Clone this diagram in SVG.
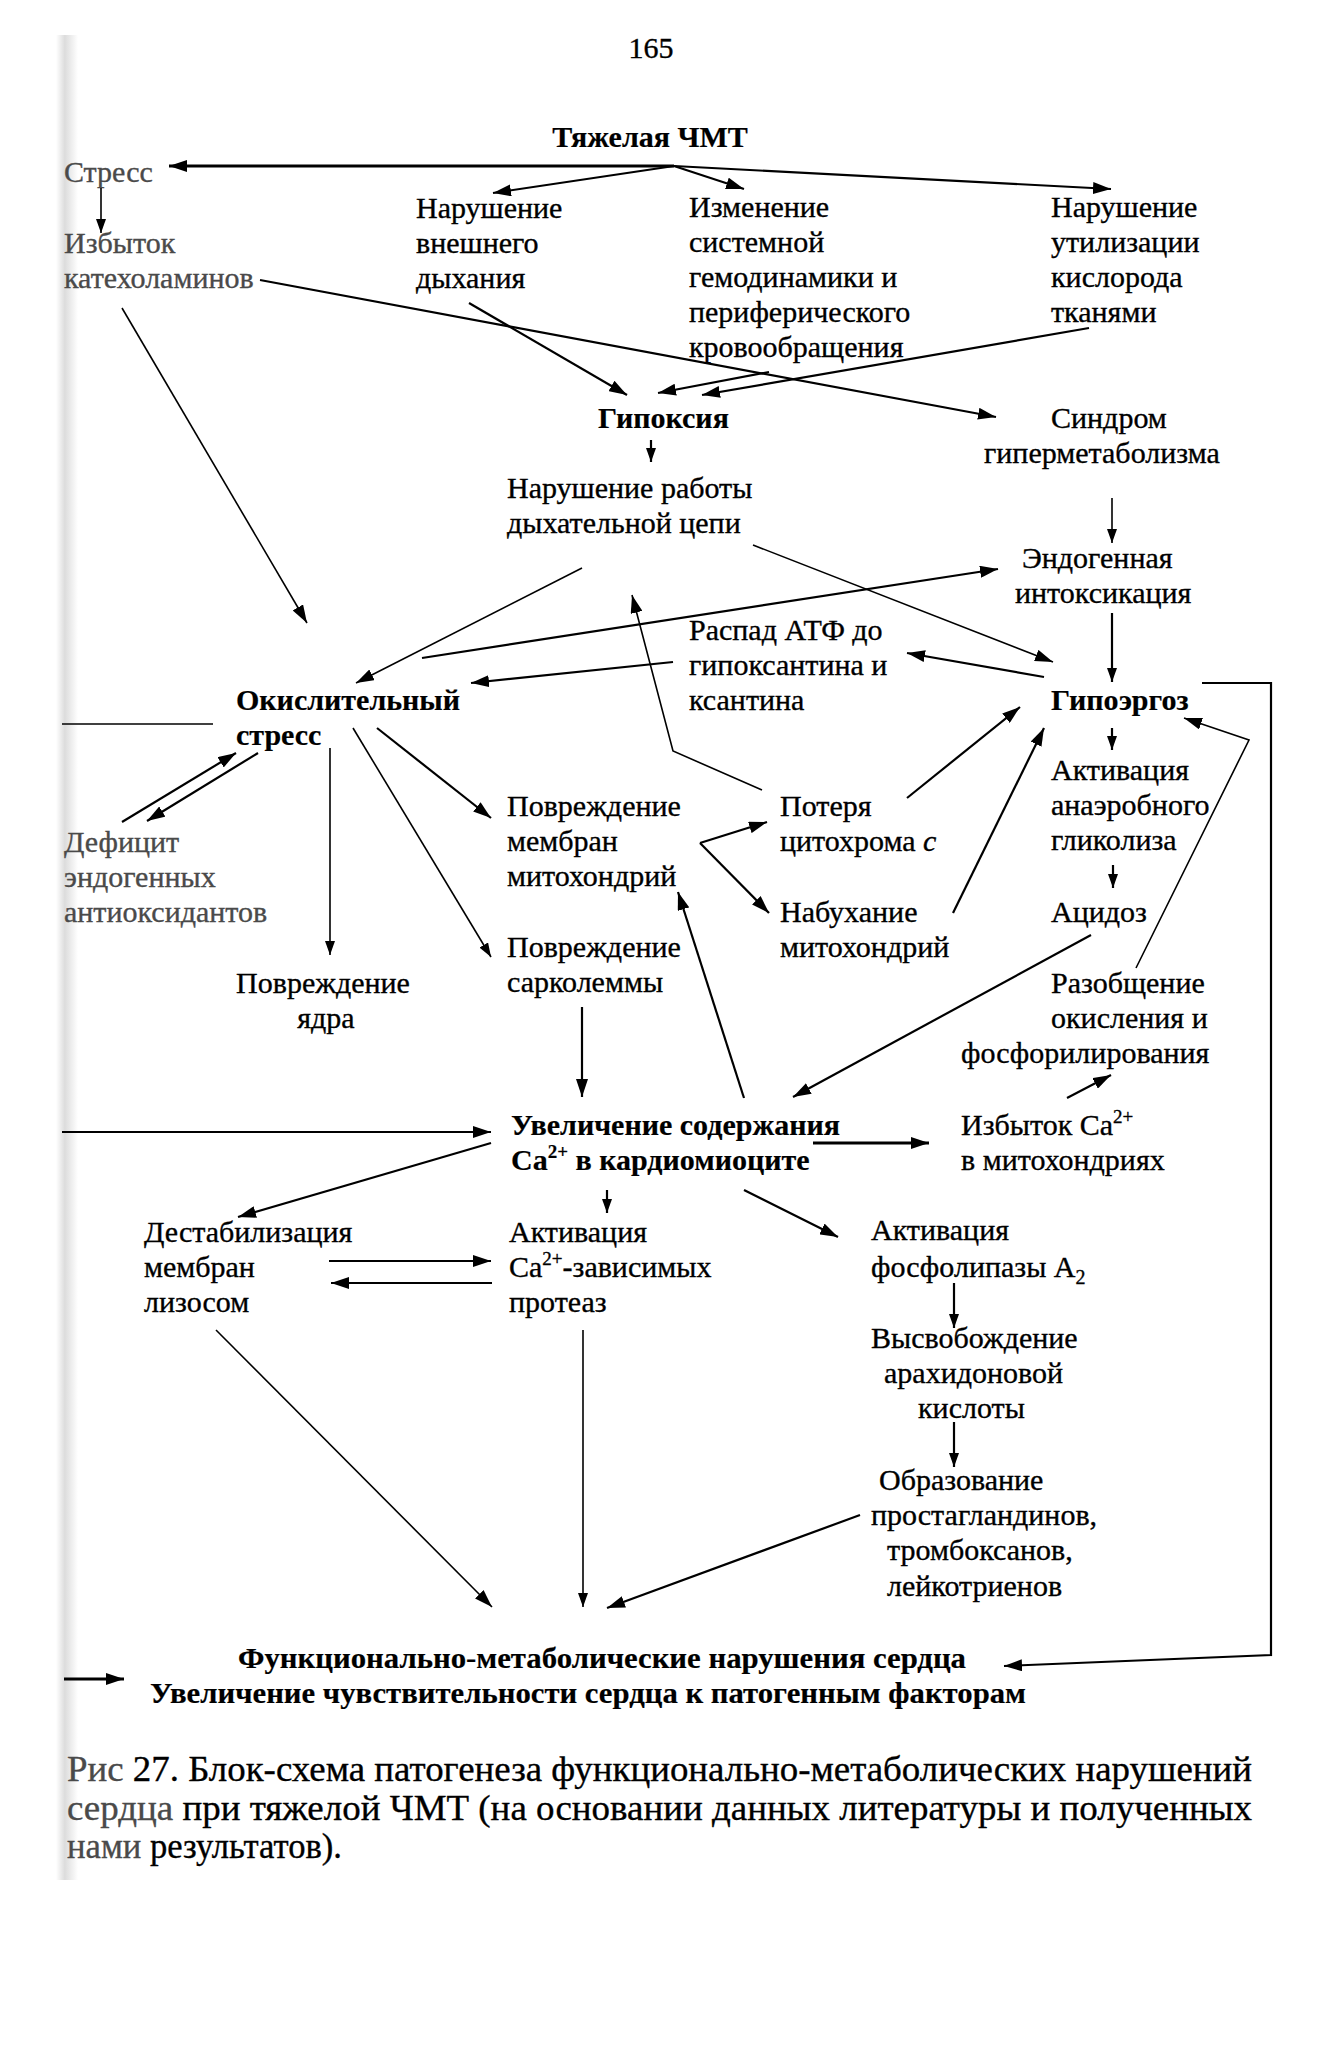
<svg xmlns="http://www.w3.org/2000/svg" width="1338" height="2050" viewBox="0 0 1338 2050">
<defs>
<marker id="ah" markerUnits="userSpaceOnUse" markerWidth="18" markerHeight="12" refX="18" refY="6" orient="auto"><path d="M0,0 L18,6 L0,12 z" fill="#000"/></marker>
<marker id="as" markerUnits="userSpaceOnUse" markerWidth="14" markerHeight="10" refX="14" refY="5" orient="auto"><path d="M0,0 L14,5 L0,10 z" fill="#000"/></marker>
<linearGradient id="shade" x1="0" y1="0" x2="1" y2="0"><stop offset="0" stop-color="#ffffff"/><stop offset="0.4" stop-color="#dcdcdc"/><stop offset="1" stop-color="#ffffff"/></linearGradient>
<style>
text{font-family:"Liberation Serif","Times New Roman",serif;font-size:30px;fill:#000;stroke:#000;stroke-width:0.35px}
.b{font-weight:bold;stroke-width:0.2px}
.g{fill:#4a4a4a;stroke:#4a4a4a}
.cap{font-size:36px}
.c line,.c polyline,.c path{stroke:#000;stroke-width:2.2;fill:none}
.t{stroke-width:1.6!important}
.k{stroke-width:3!important}
</style>
</defs>
<rect x="0" y="0" width="1338" height="2050" fill="#fff"/>
<rect x="56" y="35" width="22" height="1845" fill="url(#shade)"/>

<g id="page"><text x="651" y="58" text-anchor="middle">165</text></g>
<g id="n-tbi"><text class="b" x="650" y="147" text-anchor="middle">Тяжелая ЧМТ</text></g>
<g id="n-stress"><text class="g" x="64" y="182">Стресс</text></g>
<g id="n-catechol"><text class="g" x="64" y="253">Избыток<tspan x="64" y="288">катехоламинов</tspan></text></g>
<g id="n-breath"><text x="416" y="218">Нарушение<tspan x="416" y="253">внешнего</tspan><tspan x="416" y="288">дыхания</tspan></text></g>
<g id="n-hemo"><text x="689" y="217">Изменение<tspan x="689" y="252">системной</tspan><tspan x="689" y="287">гемодинамики и</tspan><tspan x="689" y="322">периферического</tspan><tspan x="689" y="357">кровообращения</tspan></text></g>
<g id="n-oxyuse"><text x="1051" y="217">Нарушение<tspan x="1051" y="252">утилизации</tspan><tspan x="1051" y="287">кислорода</tspan><tspan x="1051" y="322">тканями</tspan></text></g>
<g id="n-hypoxia"><text class="b" x="598" y="428">Гипоксия</text></g>
<g id="n-hypermet"><text x="1051" y="428">Синдром<tspan x="984" y="463">гиперметаболизма</tspan></text></g>
<g id="n-chain"><text x="507" y="498">Нарушение работы<tspan x="507" y="533">дыхательной цепи</tspan></text></g>
<g id="n-intox"><text x="1022" y="568">Эндогенная<tspan x="1015" y="603">интоксикация</tspan></text></g>
<g id="n-atp"><text x="689" y="640">Распад АТФ до<tspan x="689" y="675">гипоксантина и</tspan><tspan x="689" y="710">ксантина</tspan></text></g>
<g id="n-oxstress"><text class="b" x="236" y="710">Окислительный<tspan x="236" y="745">стресс</tspan></text></g>
<g id="n-hypoerg"><text class="b" x="1051" y="710">Гипоэргоз</text></g>
<g id="n-mitomem"><text x="507" y="816">Повреждение<tspan x="507" y="851">мембран</tspan><tspan x="507" y="886">митохондрий</tspan></text></g>
<g id="n-cyto"><text x="780" y="816">Потеря<tspan x="780" y="851">цитохрома <tspan font-style="italic">с</tspan></tspan></text></g>
<g id="n-glyco"><text x="1051" y="780">Активация<tspan x="1051" y="815">анаэробного</tspan><tspan x="1051" y="850">гликолиза</tspan></text></g>
<g id="n-antiox"><text class="g" x="64" y="852">Дефицит<tspan x="64" y="887">эндогенных</tspan><tspan x="64" y="922">антиоксидантов</tspan></text></g>
<g id="n-swell"><text x="780" y="922">Набухание<tspan x="780" y="957">митохондрий</tspan></text></g>
<g id="n-acid"><text x="1051" y="922">Ацидоз</text></g>
<g id="n-sarco"><text x="507" y="957">Повреждение<tspan x="507" y="992">сарколеммы</tspan></text></g>
<g id="n-nucleus"><text x="323" y="993" text-anchor="middle">Повреждение<tspan x="326" y="1028">ядра</tspan></text></g>
<g id="n-uncouple"><text x="1051" y="993">Разобщение<tspan x="1051" y="1028">окисления и</tspan><tspan x="961" y="1063">фосфорилирования</tspan></text></g>
<g id="n-ca"><text class="b" x="511" y="1135">Увеличение содержания<tspan x="511" y="1170">Ca</tspan><tspan dy="-12" font-size="19">2+</tspan><tspan dy="12"> в кардиомиоците</tspan></text></g>
<g id="n-camito"><text x="961" y="1135">Избыток Ca<tspan dy="-12" font-size="19">2+</tspan><tspan x="961" y="1170">в митохондриях</tspan></text></g>
<g id="n-lyso"><text x="144" y="1242">Дестабилизация<tspan x="144" y="1277">мембран</tspan><tspan x="144" y="1312">лизосом</tspan></text></g>
<g id="n-prot"><text x="509" y="1242">Активация<tspan x="509" y="1277">Ca</tspan><tspan dy="-12" font-size="19">2+</tspan><tspan dy="12">-зависимых</tspan><tspan x="509" y="1312">протеаз</tspan></text></g>
<g id="n-pla2"><text x="871" y="1240">Активация<tspan x="871" y="1277">фосфолипазы A</tspan><tspan dy="7" font-size="20">2</tspan></text></g>
<g id="n-arach"><text x="871" y="1348">Высвобождение<tspan x="884" y="1383">арахидоновой</tspan><tspan x="918" y="1418">кислоты</tspan></text></g>
<g id="n-prost"><text x="879" y="1490">Образование<tspan x="871" y="1525">простагландинов,</tspan><tspan x="887" y="1560">тромбоксанов,</tspan><tspan x="887" y="1596">лейкотриенов</tspan></text></g>
<g id="n-heart"><text class="b" x="238" y="1668" textLength="728" lengthAdjust="spacingAndGlyphs">Функционально-метаболические нарушения сердца</text><text class="b" x="150" y="1703" textLength="876" lengthAdjust="spacingAndGlyphs">Увеличение чувствительности сердца к патогенным факторам</text></g>

<g id="caption">
<text class="cap" x="67" y="1781" textLength="1185" lengthAdjust="spacingAndGlyphs"><tspan class="g">Рис</tspan>  27. Блок-схема патогенеза функционально-метаболических нарушений</text>
<text class="cap" x="67" y="1820" textLength="1185" lengthAdjust="spacingAndGlyphs"><tspan class="g">сердца</tspan> при тяжелой ЧМТ (на основании данных литературы и полученных</text>
<text class="cap" x="67" y="1858" textLength="275" lengthAdjust="spacingAndGlyphs"><tspan class="g">нами</tspan> результатов).</text>
</g>

<g id="connectors" class="c">
<line class="k" x1="674" y1="166" x2="169" y2="166" marker-end="url(#ah)"/>
<line x1="674" y1="166" x2="493" y2="193" marker-end="url(#ah)"/>
<line x1="674" y1="166" x2="744" y2="189" marker-end="url(#ah)"/>
<line x1="674" y1="166" x2="1111" y2="189" marker-end="url(#ah)"/>
<line class="t" x1="101" y1="188" x2="101" y2="233" marker-end="url(#as)"/>
<line x1="260" y1="280" x2="996" y2="417" marker-end="url(#ah)"/>
<line class="t" x1="122" y1="308" x2="307" y2="623" marker-end="url(#ah)"/>
<line x1="469" y1="303" x2="627" y2="395" marker-end="url(#ah)"/>
<line x1="769" y1="372" x2="658" y2="393" marker-end="url(#ah)"/>
<line x1="1089" y1="328" x2="702" y2="395" marker-end="url(#ah)"/>
<line x1="651" y1="440" x2="651" y2="462" marker-end="url(#as)"/>
<line class="t" x1="1112" y1="498" x2="1112" y2="543" marker-end="url(#as)"/>
<line class="t" x1="582" y1="568" x2="356" y2="683" marker-end="url(#ah)"/>
<line class="t" x1="753" y1="545" x2="1053" y2="662" marker-end="url(#ah)"/>
<line x1="422" y1="658" x2="998" y2="569" marker-end="url(#ah)"/>
<line x1="1112" y1="613" x2="1112" y2="682" marker-end="url(#as)"/>
<line x1="673" y1="662" x2="471" y2="683" marker-end="url(#ah)"/>
<line x1="1044" y1="677" x2="907" y2="653" marker-end="url(#ah)"/>
<polyline points="1202,683 1271,683 1271,1655 1004,1666" marker-end="url(#ah)"/>
<line x1="1112" y1="728" x2="1112" y2="750" marker-end="url(#as)"/>
<line class="t" x1="62" y1="724" x2="213" y2="724"/>
<line x1="122" y1="822" x2="236" y2="753" marker-end="url(#ah)"/>
<line x1="258" y1="753" x2="147" y2="821" marker-end="url(#ah)"/>
<line class="t" x1="330" y1="748" x2="330" y2="955" marker-end="url(#as)"/>
<line class="t" x1="353" y1="728" x2="491" y2="957" marker-end="url(#as)"/>
<line x1="377" y1="728" x2="491" y2="818" marker-end="url(#ah)"/>
<polyline class="t" points="762,790 673,751 632,595" marker-end="url(#ah)"/>
<line x1="907" y1="798" x2="1020" y2="707" marker-end="url(#ah)"/>
<line x1="953" y1="913" x2="1044" y2="728" marker-end="url(#ah)"/>
<polyline class="t" points="1136,968 1249,740 1184,718" marker-end="url(#ah)"/>
<line x1="700" y1="843" x2="767" y2="822" marker-end="url(#ah)"/>
<line x1="700" y1="843" x2="769" y2="913" marker-end="url(#ah)"/>
<line x1="1113" y1="865" x2="1113" y2="888" marker-end="url(#as)"/>
<line x1="1091" y1="935" x2="793" y2="1097" marker-end="url(#ah)"/>
<line x1="1067" y1="1098" x2="1111" y2="1075" marker-end="url(#ah)"/>
<line x1="582" y1="1007" x2="582" y2="1097" marker-end="url(#ah)"/>
<line x1="744" y1="1098" x2="678" y2="892" marker-end="url(#ah)"/>
<line x1="62" y1="1132" x2="491" y2="1132" marker-end="url(#ah)"/>
<line x1="491" y1="1143" x2="238" y2="1217" marker-end="url(#ah)"/>
<line x1="607" y1="1190" x2="607" y2="1213" marker-end="url(#as)"/>
<line class="k" x1="813" y1="1143" x2="929" y2="1143" marker-end="url(#ah)"/>
<line x1="744" y1="1190" x2="838" y2="1237" marker-end="url(#ah)"/>
<line x1="329" y1="1261" x2="491" y2="1261" marker-end="url(#ah)"/>
<line x1="492" y1="1283" x2="331" y2="1283" marker-end="url(#ah)"/>
<line x1="954" y1="1283" x2="954" y2="1328" marker-end="url(#as)"/>
<line x1="954" y1="1422" x2="954" y2="1467" marker-end="url(#as)"/>
<line class="t" x1="216" y1="1330" x2="492" y2="1607" marker-end="url(#ah)"/>
<line class="t" x1="583" y1="1330" x2="583" y2="1607" marker-end="url(#as)"/>
<line x1="860" y1="1515" x2="607" y2="1608" marker-end="url(#ah)"/>
<line class="k" x1="64" y1="1679" x2="124" y2="1679" marker-end="url(#ah)"/>
</g>
</svg>
